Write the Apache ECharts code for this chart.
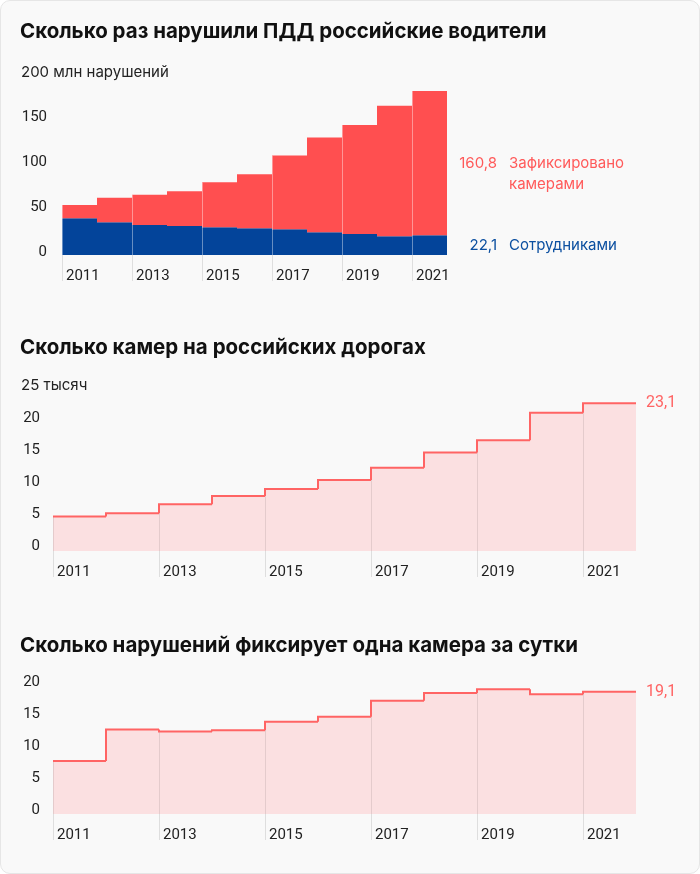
<!DOCTYPE html>
<html>
<head>
<meta charset="utf-8">
<script src="https://cdn.jsdelivr.net/npm/echarts@6/dist/echarts.min.js"></script>
<style>
  html, body { margin: 0; padding: 0; background: #fff; }
  .card {
    position: absolute; left: 0; top: 0; width: 698px; height: 872px;
    border: 1px solid #e6e6e6; border-radius: 10px; background: #f9f9f9;
  }
  #chart { position: absolute; left: 0; top: 0; width: 700px; height: 874px; }
</style>
</head>
<body>
<div class="card"></div>
<div id="chart"></div>
<script>
// данные
const years = ['2011', '2012', '2013', '2014', '2015', '2016', '2017', '2018', '2019', '2020', '2021'];
const violStaff = [40.9, 36.4, 33.5, 32.3, 30.9, 29.7, 28.6, 25.3, 23.4, 20.8, 22.1];   // млн, сотрудники
const violCameras = [14.9, 27.5, 33.8, 38.7, 50.1, 60.3, 82.2, 105.6, 121.6, 145.7, 160.8]; // млн, камеры
const cameras = [5.4, 5.9, 7.3, 8.6, 9.7, 11.1, 13.0, 15.4, 17.3, 21.6, 23.1];      // тысяч камер
const perCamera = [8.3, 13.2, 12.9, 13.1, 14.4, 15.2, 17.7, 18.9, 19.5, 18.7, 19.1]; // нарушений на камеру в сутки

const FONT = 'Inter, "Noto Sans", sans-serif';
const NUM_FONT = 'Roboto, Inter, sans-serif';
const RED = '#ff4f50';
const BLUE = '#03449a';
const LINE = '#ff6464';
const PINK = '#fbe0e1';
const TXT = '#222';
const last = years.length - 1;
const fmt = (v) => String(v).replace('.', ',');

const grids = [
  { left: 62, top: 75.6, width: 385, height: 179.4 },
  { left: 53, top: 391, width: 583, height: 160 },
  { left: 53, top: 686, width: 583, height: 128 },
];
const bandHalf = grids.map((g) => g.width / years.length / 2);

function xAxis(i) {
  return {
    type: 'category', gridIndex: i, data: years,
    axisLine: { show: false }, axisTick: { show: false },
    axisLabel: {
      interval: 1, align: 'left', margin: 14, color: TXT, fontSize: 15, fontFamily: NUM_FONT,
      padding: [0, 0, 0, -(bandHalf[i] - 4)],
    },
  };
}
function yAxis(i, max, margin, hideMax, lh) {
  return {
    type: 'value', gridIndex: i, min: 0, max: max, interval: max > 50 ? 50 : 5,
    axisLine: { show: false }, axisTick: { show: false }, splitLine: { show: false },
    axisLabel: {
      margin: margin, color: TXT, fontSize: 15, fontFamily: NUM_FONT,
      verticalAlign: 'bottom', lineHeight: lh,
      formatter: (v) => (hideMax && v === max ? '' : String(v)),
    },
  };
}

// вертикальные разделители по нечётным годам + риски под осью
function separators(i, tops, inColor) {
  return {
    type: 'custom', xAxisIndex: i, yAxisIndex: i, z: 5, silent: true,
    data: tops.map((v, k) => [k, v]),
    renderItem: function (params, api) {
      const k = api.value(0);
      if (k % 2) return null;
      const bw = api.size([1, 0])[0];
      const top = api.coord([k, api.value(1)]);
      const base = api.coord([k, 0]);
      const x = Math.round(top[0] - bw / 2) + 0.5;
      return {
        type: 'group',
        children: [
          { type: 'line', shape: { x1: x, y1: top[1], x2: x, y2: base[1] }, style: { stroke: inColor, lineWidth: 1 } },
          { type: 'line', shape: { x1: x, y1: base[1], x2: x, y2: base[1] + 26 }, style: { stroke: '#dedede', lineWidth: 1 } },
        ],
      };
    },
  };
}

// ступенчатый контур
function outline(i, vals) {
  return {
    type: 'custom', xAxisIndex: i, yAxisIndex: i, z: 6, silent: true,
    data: vals.map((v, k) => [k, v]),
    renderItem: function (params, api) {
      const k = api.value(0);
      const bw = api.size([1, 0])[0];
      const p = api.coord([k, api.value(1)]);
      const l = p[0] - bw / 2, r = p[0] + bw / 2;
      const pts = [];
      if (k > 0) pts.push([l, api.coord([k, vals[k - 1]])[1]]);
      pts.push([l, p[1]], [r, p[1]]);
      return { type: 'polyline', shape: { points: pts }, style: { stroke: LINE, lineWidth: 2, fill: null } };
    },
  };
}

function areaBars(i, vals) {
  return {
    type: 'bar', xAxisIndex: i, yAxisIndex: i, data: vals, barWidth: '100%', z: 1, silent: true,
    itemStyle: { color: PINK },
    label: {
      show: true, position: ['100%', 0], align: 'left', verticalAlign: 'middle', offset: [10, 0],
      color: LINE, fontSize: 16, fontFamily: NUM_FONT,
      formatter: (p) => (p.dataIndex === last ? fmt(p.value) : ''),
    },
  };
}

const totals = violStaff.map((v, k) => v + violCameras[k]);

const titleStyle = { fontSize: 20.5, fontWeight: 'bold', color: '#111', fontFamily: FONT, lineHeight: 24 };

const chart = echarts.init(document.getElementById('chart'));
chart.setOption({
  animation: false,
  backgroundColor: 'transparent',
  title: [
    { text: 'Сколько раз нарушили ПДД российские водители', left: 20, top: 20, padding: 0, textStyle: titleStyle },
    { text: 'Сколько камер на российских дорогах', left: 20, top: 336, padding: 0, textStyle: titleStyle },
    { text: 'Сколько нарушений фиксирует одна камера за сутки', left: 20, top: 634, padding: 0, textStyle: titleStyle },
  ],
  grid: grids,
  xAxis: [xAxis(0), xAxis(1), xAxis(2)],
  yAxis: [yAxis(0, 200, 15, true, 6), yAxis(1, 25, 13, true, 10), yAxis(2, 20, 13, false, 8)],
  series: [
    { name: 'Сотрудниками', type: 'bar', stack: 'v', data: violStaff, barWidth: '100%', itemStyle: { color: BLUE } },
    { name: 'Зафиксировано камерами', type: 'bar', stack: 'v', data: violCameras, barWidth: '100%', itemStyle: { color: RED } },
    separators(0, totals, 'rgba(255,255,255,0.4)'),
    areaBars(1, cameras),
    separators(1, cameras, 'rgba(0,0,0,0.09)'),
    outline(1, cameras),
    areaBars(2, perCamera),
    separators(2, perCamera, 'rgba(0,0,0,0.09)'),
    outline(2, perCamera),
  ],
});

// подписи справа от последнего столбца — по центру своих сегментов
const yStaff = chart.convertToPixel({ gridIndex: 0 }, [last, violStaff[last] / 2])[1];
const yCam = chart.convertToPixel({ gridIndex: 0 }, [last, violStaff[last] + violCameras[last] / 2])[1];
const txt = (x, y, text, color, align) => ({
  type: 'text', x: x, y: y,
  style: { text: text, fill: color, fontSize: 15, fontFamily: FONT, align: align || 'left', verticalAlign: 'middle' },
});
chart.setOption({
  graphic: [
    txt(21, 72, '200 млн нарушений', TXT),
    txt(21, 385, '25 тысяч', TXT),
    txt(497, yCam, fmt(violCameras[last]), '#ff5a5a', 'right'),
    txt(509, yCam, 'Зафиксировано', '#ff5a5a'),
    txt(509, yCam + 21, 'камерами', '#ff5a5a'),
    txt(497, yStaff, fmt(violStaff[last]), '#0b4fa0', 'right'),
    txt(509, yStaff, 'Сотрудниками', '#0b4fa0'),
  ],
});
</script>
</body>
</html>
